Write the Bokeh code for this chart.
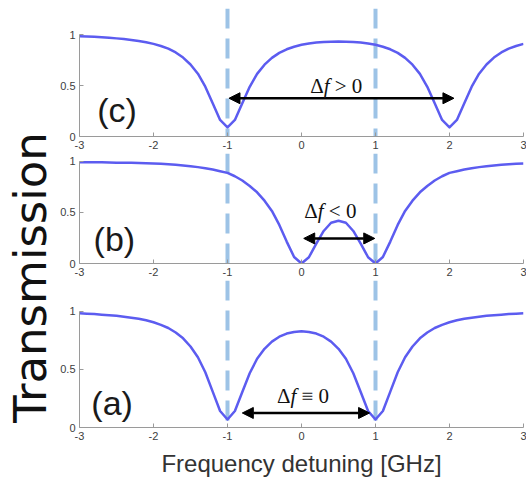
import math
from bokeh.plotting import figure
from bokeh.layouts import row, column
from bokeh.models import Span, Arrow, NormalHead, Label, FixedTicker, Range1d
from bokeh.embed import file_html
from bokeh.resources import INLINE

# ---- data -------------------------------------------------------------
detuning = [round(-3 + 0.1 * i, 1) for i in range(61)]  # GHz

trans_c = [0.983, 0.981, 0.977, 0.972, 0.968, 0.962, 0.955, 0.947, 0.937, 0.924,
           0.908, 0.887, 0.861, 0.824, 0.774, 0.706, 0.616, 0.488, 0.326, 0.162,
           0.090, 0.162, 0.325, 0.487, 0.614, 0.704, 0.771, 0.820, 0.855, 0.880,
           0.899, 0.912, 0.921, 0.926, 0.930, 0.931, 0.930, 0.926, 0.921, 0.912,
           0.899, 0.880, 0.855, 0.820, 0.771, 0.704, 0.614, 0.487, 0.325, 0.162,
           0.090, 0.162, 0.326, 0.488, 0.616, 0.706, 0.774, 0.824, 0.861, 0.887, 0.908]

trans_b = [0.990, 0.990, 0.989, 0.989, 0.987, 0.986, 0.985, 0.984, 0.983, 0.980,
           0.978, 0.975, 0.970, 0.965, 0.958, 0.951, 0.942, 0.932, 0.919, 0.902,
           0.886, 0.853, 0.811, 0.758, 0.696, 0.614, 0.514, 0.377, 0.214, 0.064,
           0.000, 0.061, 0.195, 0.318, 0.398, 0.418, 0.398, 0.318, 0.195, 0.061,
           0.000, 0.064, 0.214, 0.377, 0.514, 0.614, 0.696, 0.758, 0.811, 0.853,
           0.886, 0.902, 0.919, 0.932, 0.942, 0.951, 0.958, 0.965, 0.970, 0.975, 0.978]

trans_a = [0.982, 0.979, 0.976, 0.971, 0.966, 0.961, 0.953, 0.945, 0.935, 0.922,
           0.905, 0.883, 0.856, 0.817, 0.767, 0.697, 0.604, 0.475, 0.309, 0.142,
           0.069, 0.142, 0.306, 0.467, 0.591, 0.677, 0.739, 0.781, 0.808, 0.822,
           0.828, 0.822, 0.808, 0.781, 0.739, 0.677, 0.591, 0.467, 0.306, 0.142,
           0.069, 0.142, 0.309, 0.475, 0.604, 0.697, 0.767, 0.817, 0.856, 0.883,
           0.905, 0.922, 0.935, 0.945, 0.953, 0.961, 0.966, 0.971, 0.976, 0.979, 0.982]

x_ticks = [-3, -2, -1, 0, 1, 2, 3]
x_tick_labels = ["-3", "-2", "-1", "0", "1", "2", "3"]
y_ticks = [0, 0.5, 1]
y_tick_labels = ["0", "0.5", "1"]
marker_lines = [-1, 1]

panel_names = ["(c)", "(b)", "(a)"]
panel_label_x = [-2.76, -2.81, -2.84]
panel_label_y = [0.255, 0.244, 0.213]
arrow_x_start = [-0.98, 0.03, -0.80]
arrow_x_end = [2.06, 0.99, 0.92]
arrow_y = [0.375, 0.245, 0.125]
delta_relations = ["> 0", "< 0", "≡ 0"]
delta_text_x = [0.47, 0.39, 0.02]
delta_text_y = [0.50, 0.51, 0.272]

CURVE = "#5c5cf0"
DASH = "#9dc3e6"
AXIS = "#9a9a9a"


def make_panel(k, values, height, y_end, border_top, border_bottom, xlabel=None):
    p = figure(width=469, height=height, x_range=Range1d(-3, 3), y_range=Range1d(0, y_end),
               output_backend="svg", toolbar_location=None,
               min_border_left=20, min_border_right=3, min_border_top=border_top,
               min_border_bottom=border_bottom)
    p.outline_line_color = None
    p.grid.visible = False
    p.background_fill_color = "white"

    xa = p.xaxis[0]
    ya = p.yaxis[0]
    xa.ticker = FixedTicker(ticks=x_ticks)
    xa.major_label_overrides = dict(zip(x_ticks, x_tick_labels))
    ya.ticker = FixedTicker(ticks=y_ticks)
    ya.major_label_overrides = dict(zip(y_ticks, y_tick_labels))
    ya.bounds = (0, 1)
    for ax in (xa, ya):
        ax.axis_line_color = AXIS
        ax.axis_line_width = 1
        ax.major_tick_line_color = AXIS
        ax.major_tick_in = 4
        ax.major_tick_out = 0
        ax.minor_tick_line_color = None
        ax.major_label_text_font = "Liberation Sans"
        ax.major_label_text_font_size = "11px"
        ax.major_label_text_color = "#404040"
    xa.major_label_standoff = 4
    ya.major_label_standoff = 4
    if xlabel:
        xa.axis_label = xlabel
        xa.axis_label_text_font = "Liberation Sans"
        xa.axis_label_text_font_size = "24px"
        xa.axis_label_text_font_style = "normal"
        xa.axis_label_text_color = "#333333"
        xa.axis_label_standoff = 7

    for loc in marker_lines:
        sp = Span(location=loc, dimension="height", line_color=DASH, line_width=4,
                  line_dash="20 10")
        sp.level = "underlay"
        p.add_layout(sp)

    p.line(detuning, values, line_color=CURVE, line_width=2.5, line_join="round")

    head = dict(size=11, fill_color="black", line_color="black")
    p.add_layout(Arrow(start=NormalHead(**head), end=NormalHead(**head),
                       x_start=arrow_x_start[k], y_start=arrow_y[k],
                       x_end=arrow_x_end[k], y_end=arrow_y[k],
                       line_color="black", line_width=2.5))

    common = dict(x=delta_text_x[k], y=delta_text_y[k], text_align="left",
                  text_baseline="middle", text_font="Liberation Serif",
                  text_font_size="21px", text_color="#111111")
    p.add_layout(Label(text="Δ", x_offset=-26, **common))
    p.add_layout(Label(text="f", x_offset=-12.5, text_font_style="italic", **common))
    p.add_layout(Label(text=delta_relations[k], x_offset=-1.5, **common))

    p.add_layout(Label(x=panel_label_x[k], y=panel_label_y[k], text=panel_names[k],
                       text_align="left", text_baseline="middle",
                       text_font="Liberation Sans", text_font_size="34px",
                       text_color="#1a1a1a"))
    return p


pc = make_panel(0, trans_c, 153, 128 / 102.0, 8, 17)
pb = make_panel(1, trans_b, 127, 110 / 102.3, 0, 17)
pa = make_panel(2, trans_a, 201, 146.7 / 116.0, 0, 54, xlabel="Frequency detuning [GHz]")

lf = figure(width=57, height=481, x_range=Range1d(0, 57), y_range=Range1d(0, 481),
            x_axis_type=None, y_axis_type=None, output_backend="svg",
            toolbar_location=None, min_border=0)
lf.outline_line_color = None
lf.grid.visible = False
lf.add_layout(Label(x=30, y=204, text="Transmission", angle=math.pi / 2,
                    text_align="center", text_baseline="middle",
                    text_font="DejaVu Sans", text_font_size="45px",
                    text_color="#111111"))

layout = row(lf, column(pc, pb, pa))

open("out.html", "w").write(file_html(layout, INLINE))
